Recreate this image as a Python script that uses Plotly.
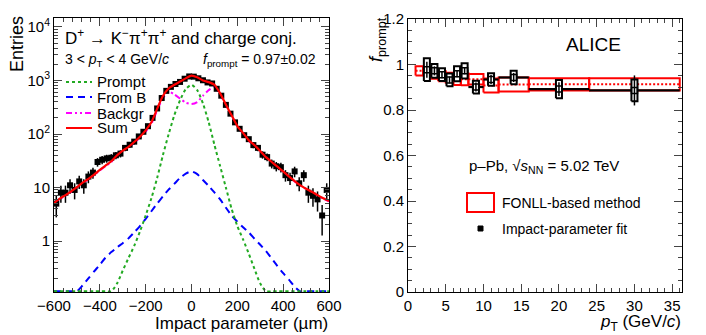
import numpy as np
import plotly.graph_objects as go
from plotly.subplots import make_subplots

W, H = 706, 335
FONT = "Liberation Sans, Arial, Helvetica, sans-serif"

# ---- left panel: impact-parameter distribution (3 < pT < 4 GeV/c) ----
ip_centres = list(range(-590, 600, 20))
ip_entries = [5, 8, 8, 11, 9, 13, 11, 16, 19, 30,
              33, 35, 36, 40, 43, 55, 63, 72, 90, 110,
              140, 200, 300, 470, 640, 760, 860, 940, 1080, 1190,
              1180, 1100, 1010, 920, 880, 700, 520, 350, 240, 165,
              125, 95, 80, 62, 55, 41, 37, 28, 25, 24,
              17, 15, 20, 12, 17, 8, 7, 6, 3, 9]

curve_x = list(range(-600, 625, 25))
prompt_curve = [0.01, 0.01, 0.01, 0.01, 0.01, 0.01, 0.01, 0.01, 0.01, 0.01,
                0.095, 0.16, 0.28, 0.48, 0.81, 1.5, 3.0, 6.3, 15, 40,
                98, 224, 427, 692, 832, 661, 372, 166, 63, 25,
                10, 4.0, 1.9, 1.07, 0.58, 0.30, 0.16, 0.089, 0.01, 0.01,
                0.01, 0.01, 0.01, 0.01, 0.01, 0.01, 0.01, 0.01, 0.01]
fromb_curve = [0.01, 0.01, 0.01, 0.01, 0.107, 0.148, 0.20, 0.27, 0.36, 0.49,
               0.62, 0.76, 0.91, 1.12, 1.45, 1.9, 2.6, 3.6, 5.0, 6.8,
               9.1, 11.7, 15.1, 18.2, 20, 17.8, 13.8, 10.7, 8.1, 6.0,
               4.2, 3.0, 2.3, 1.8, 1.45, 1.1, 0.85, 0.65, 0.47, 0.34,
               0.25, 0.19, 0.14, 0.11, 0.089, 0.01, 0.01, 0.01, 0.01]
backgr_curve = [5.0, 6.1, 7.0, 8.3, 10.0, 12.1, 14.2, 17.0, 20.8, 25.0,
                30.0, 38.5, 47.5, 55.5, 68.5, 86, 111, 156, 275, 467,
                620, 550, 460, 385, 363, 395, 520, 660, 760, 540,
                340, 217, 137, 102, 74, 60, 47, 36, 29.5, 24,
                19.7, 16, 13, 10.9, 9.4, 8.2, 7.1, 6.2, 5.5]
sum_curve = [5.1, 6.2, 7.2, 8.5, 10.2, 12.3, 14.5, 17.4, 21.4, 25.7,
             30.9, 39.8, 49, 57.5, 70.8, 89, 117, 166, 295, 513,
             708, 832, 955, 1096, 1230, 1148, 1000, 933, 832, 575,
             355, 224, 141, 105, 76, 62, 48, 37, 30, 24.5,
             20, 16.2, 13.2, 11, 9.5, 8.3, 7.2, 6.3, 5.6]

# ---- right panel: f_prompt vs pT ----
fonll_lo = [1, 2, 3, 4, 5, 6, 7, 8, 10, 12, 16, 24]
fonll_hi = [2, 3, 4, 5, 6, 7, 8, 10, 12, 16, 24, 36]
fonll_val = [0.972, 0.968, 0.958, 0.948, 0.940, 0.935, 0.935, 0.935, 0.908, 0.912, 0.913, 0.913]
fonll_err = [0.020, 0.020, 0.021, 0.022, 0.024, 0.025, 0.026, 0.023, 0.031, 0.031, 0.027, 0.027]

fit_lo = [2, 3, 4, 5, 6, 7, 8, 10, 12, 16, 24]
fit_hi = [3, 4, 5, 6, 7, 8, 10, 12, 16, 24, 36]
fit_val = [0.977, 0.972, 0.955, 0.932, 0.959, 0.972, 0.901, 0.934, 0.943, 0.892, 0.886]
fit_stat = [0.035, 0.020, 0.015, 0.015, 0.015, 0.015, 0.020, 0.020, 0.020, 0.030, 0.066]
fit_syst = [0.050, 0.030, 0.028, 0.028, 0.033, 0.033, 0.028, 0.027, 0.030, 0.040, 0.048]

# frame geometry in pixels (ROOT canvas look)
L_X0, L_X1 = 54, 329
R_X0, R_X1 = 408, 682
Y_TOP, Y_BOT = 18, 292
LOG_MIN, LOG_MAX = -0.953, 4.168


def px(x):
    return x / W


def py(y):
    return 1 - y / H


def boxes(lo, hi, val, err):
    xs, ys = [], []
    for a, b, v, e in zip(lo, hi, val, err):
        xs += [a, b, b, a, a, None]
        ys += [v - e, v - e, v + e, v + e, v - e, None]
    return xs, ys


fig = make_subplots(rows=1, cols=2)

floor = 10 ** (LOG_MIN + 0.012)
curve_styles = [
    (backgr_curve, "#ff00ff", "6px,3px,2px,3px,2px,3px"),
    (fromb_curve, "#0000ff", "7px,5px"),
    (prompt_curve, "#22aa22", "3px,3px"),
]
for vals, col, dash in curve_styles:
    fig.add_trace(go.Scatter(
        x=curve_x, y=np.maximum(vals, floor), mode="lines",
        line=dict(color=col, width=2, dash=dash, shape="spline", smoothing=0.6),
        showlegend=False), row=1, col=1)

fig.add_trace(go.Scatter(
    x=ip_centres, y=ip_entries, mode="markers",
    marker=dict(symbol="square", size=6, color="black"),
    error_y=dict(type="data", array=np.sqrt(ip_entries), color="black", thickness=1.5, width=0),
    showlegend=False), row=1, col=1)

fig.add_trace(go.Scatter(
    x=curve_x, y=sum_curve, mode="lines",
    line=dict(color="#ff0000", width=2.2, shape="spline", smoothing=0.6),
    showlegend=False), row=1, col=1)

# FONLL boxes and central values
bx, by = boxes(fonll_lo, fonll_hi, fonll_val, fonll_err)
fig.add_trace(go.Scatter(x=bx, y=by, mode="lines", line=dict(color="#ff0000", width=2),
                         showlegend=False), row=1, col=2)
cx, cy = [], []
for a, b, v in zip(fonll_lo, fonll_hi, fonll_val):
    cx += [a, b, None]
    cy += [v, v, None]
fig.add_trace(go.Scatter(x=cx, y=cy, mode="lines",
                         line=dict(color="#ff0000", width=2, dash="2px,2px"),
                         showlegend=False), row=1, col=2)

# impact-parameter fit: x-bin lines, syst boxes, stat bars
fit_mid = [(a + b) / 2 for a, b in zip(fit_lo, fit_hi)]
fit_half = [(b - a) / 2 for a, b in zip(fit_lo, fit_hi)]
fig.add_trace(go.Scatter(
    x=fit_mid, y=fit_val, mode="markers", marker=dict(size=1, color="black"),
    error_x=dict(type="data", array=fit_half, color="black", thickness=2.2, width=0),
    showlegend=False), row=1, col=2)
sx, sy = boxes([m - 0.4 for m in fit_mid], [m + 0.4 for m in fit_mid], fit_val, fit_syst)
fig.add_trace(go.Scatter(x=sx, y=sy, mode="lines", fill="toself", fillcolor="white",
                         line=dict(color="black", width=2), showlegend=False), row=1, col=2)
fig.add_trace(go.Scatter(
    x=fit_mid, y=fit_val, mode="markers",
    marker=dict(symbol="square-open", size=6, color="black", line=dict(width=1.5)),
    error_y=dict(type="data", array=fit_stat, color="black", thickness=1.5, width=0),
    showlegend=False), row=1, col=2)

axis_common = dict(showline=True, linecolor="black", linewidth=1, mirror="allticks",
                   ticks="inside", showgrid=False, zeroline=False, automargin=False,
                   tickfont=dict(family=FONT, size=15, color="black"))

fig.update_xaxes(range=[-600, 600], domain=[px(L_X0), px(L_X1)], ticklen=8,
                 tickvals=[-600, -400, -200, 0, 200, 400, 600],
                 ticktext=["\u2212600", "\u2212400", "\u2212200", "0", "200", "400", "600"],
                 minor=dict(ticks="inside", ticklen=4, dtick=40),
                 row=1, col=1, **axis_common)
fig.update_yaxes(type="log", range=[LOG_MIN, LOG_MAX], domain=[py(Y_BOT), py(Y_TOP)],
                 tickvals=[1, 10, 100, 1000, 10000],
                 ticktext=["1", "10", "10<sup>2</sup>", "10<sup>3</sup>", "10<sup>4</sup>"],
                 ticklen=8, minor=dict(ticks="inside", ticklen=4, dtick="D1"),
                 row=1, col=1, **axis_common)
fig.update_xaxes(range=[0, 36.3], domain=[px(R_X0), px(R_X1)], dtick=5, ticklen=8,
                 minor=dict(ticks="inside", ticklen=4, dtick=1),
                 row=1, col=2, **axis_common)
fig.update_yaxes(range=[0, 1.2], domain=[py(Y_BOT), py(Y_TOP + 1)], ticklen=8,
                 tickvals=[0, 0.2, 0.4, 0.6, 0.8, 1.0, 1.2],
                 ticktext=["0", "0.2", "0.4", "0.6", "0.8", "1", "1.2"],
                 minor=dict(ticks="inside", ticklen=4, dtick=0.05),
                 row=1, col=2, **axis_common)

ann = []


def text(x, y, s, size=14, xanchor="left", angle=0):
    ann.append(dict(x=px(x), y=py(y), xref="paper", yref="paper", text=s, showarrow=False,
                    xanchor=xanchor, yanchor="middle", textangle=angle,
                    font=dict(family=FONT, size=size, color="black")))


# axis titles
text(17, 44, "Entries", size=18, xanchor="center", angle=-90)
text(L_X1 + 1, 323, "Impact parameter (\u00b5m)", size=17, xanchor="right")
text(377, 40, "<i>f</i><sub>prompt</sub>", size=18, xanchor="center", angle=-90)
text(R_X1 + 1, 323, "<i>p</i><sub>T</sub> (GeV/<i>c</i>)", size=17, xanchor="right")

# left panel labels
text(63, 37, "D<sup>+</sup> \u2192 K<sup>\u2212</sup>\u03c0<sup>+</sup>\u03c0<sup>+</sup> and charge conj.", size=17)
text(63, 60, "3 &lt; <i>p</i><sub>T</sub> &lt; 4 GeV/<i>c</i>", size=14)
text(318, 60, "<i>f</i><sub>prompt</sub> = 0.97\u00b10.02", size=14, xanchor="right")

shapes = []
legend_rows = [("Prompt", "#22aa22", "3px,3px", 82),
               ("From B", "#0000ff", "7px,5px", 97),
               ("Backgr", "#ff00ff", "6px,3px,2px,3px,2px,3px", 113),
               ("Sum", "#ff0000", "solid", 128)]
for name, col, dash, yy in legend_rows:
    shapes.append(dict(type="line", xref="paper", yref="paper", x0=px(66), x1=px(92),
                       y0=py(yy), y1=py(yy), line=dict(color=col, width=2, dash=dash)))
    text(95, yy, name, size=15)

# right panel labels
text(564, 44, "ALICE", size=19)
text(467, 166, "p\u2013Pb, \u221a<i>s</i><sub>NN</sub> = 5.02 TeV", size=15)
shapes.append(dict(type="rect", xref="paper", yref="paper", x0=px(467), x1=px(494),
                   y0=py(212), y1=py(193), line=dict(color="#ff0000", width=2)))
text(500, 203, "FONLL-based method", size=14)
shapes.append(dict(type="rect", xref="paper", yref="paper", x0=px(478), x1=px(483),
                   y0=py(231), y1=py(226), line=dict(color="black", width=1),
                   fillcolor="black"))
text(500, 229, "Impact-parameter fit", size=14)

fig.update_layout(width=W, height=H, margin=dict(l=0, r=0, t=0, b=0),
                  paper_bgcolor="white", plot_bgcolor="white",
                  annotations=ann, shapes=shapes, showlegend=False)
fig.write_html("out.html", config={"displayModeBar": False},
               post_script="document.body.style.margin='0';")
